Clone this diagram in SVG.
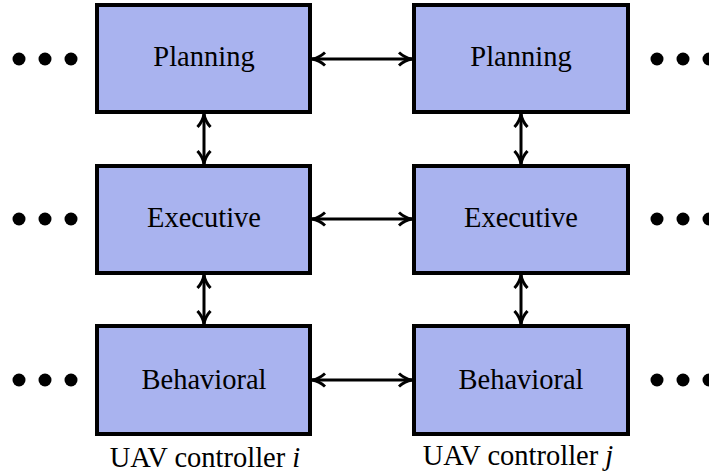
<svg xmlns="http://www.w3.org/2000/svg" width="709" height="476" viewBox="0 0 709 476">
<defs>
<style>
.box{fill:#a9b3ef;stroke:#000;stroke-width:4}
.lbl{font-family:"Liberation Serif","Times New Roman",serif;font-size:28.5px;fill:#000;text-anchor:middle}
.cap{font-family:"Liberation Serif","Times New Roman",serif;font-size:28.5px;fill:#000;text-anchor:middle}
.con{stroke:#000;stroke-width:3;fill:none;marker-start:url(#ah);marker-end:url(#ah)}
.dot{fill:#000}
</style>
<marker id="ah" viewBox="0 0 16 16" refX="15" refY="8" markerWidth="16" markerHeight="16" markerUnits="userSpaceOnUse" orient="auto-start-reverse">
<path d="M2,1.5 Q8,7 15,8 Q8,9 2,14.5" fill="none" stroke="#000" stroke-width="3"/>
</marker>
</defs>
<rect width="709" height="476" fill="#fff"/>
<g id="planning-i"><rect class="box" x="97" y="5" width="213" height="107"/><text class="lbl" x="204" y="66">Planning</text></g>
<g id="executive-i"><rect class="box" x="97" y="166" width="213" height="107"/><text class="lbl" x="204" y="227">Executive</text></g>
<g id="behavioral-i"><rect class="box" x="97" y="326" width="213" height="108"/><text class="lbl" x="204" y="389">Behavioral</text></g>
<g id="planning-j"><rect class="box" x="414" y="5" width="214" height="107"/><text class="lbl" x="521" y="66">Planning</text></g>
<g id="executive-j"><rect class="box" x="414" y="166" width="214" height="107"/><text class="lbl" x="521" y="227">Executive</text></g>
<g id="behavioral-j"><rect class="box" x="414" y="326" width="214" height="108"/><text class="lbl" x="521" y="389">Behavioral</text></g>
<g id="connectors">
<line class="con" x1="312" y1="59" x2="412" y2="59"/>
<line class="con" x1="312" y1="219" x2="412" y2="219"/>
<line class="con" x1="312" y1="380" x2="412" y2="380"/>
<line class="con" x1="204" y1="114" x2="204" y2="164"/>
<line class="con" x1="204" y1="275" x2="204" y2="324"/>
<line class="con" x1="521" y1="114" x2="521" y2="164"/>
<line class="con" x1="521" y1="275" x2="521" y2="324"/>
</g>
<g id="dots-left">
<circle class="dot" cx="19" cy="59" r="6.5"/><circle class="dot" cx="45" cy="59" r="6.5"/><circle class="dot" cx="71" cy="59" r="6.5"/>
<circle class="dot" cx="19" cy="219" r="6.5"/><circle class="dot" cx="45" cy="219" r="6.5"/><circle class="dot" cx="71" cy="219" r="6.5"/>
<circle class="dot" cx="19" cy="380" r="6.5"/><circle class="dot" cx="45" cy="380" r="6.5"/><circle class="dot" cx="71" cy="380" r="6.5"/>
</g>
<g id="dots-right">
<circle class="dot" cx="657" cy="59" r="6.5"/><circle class="dot" cx="683" cy="59" r="6.5"/><circle class="dot" cx="709" cy="59" r="6.5"/>
<circle class="dot" cx="657" cy="219" r="6.5"/><circle class="dot" cx="683" cy="219" r="6.5"/><circle class="dot" cx="709" cy="219" r="6.5"/>
<circle class="dot" cx="657" cy="380" r="6.5"/><circle class="dot" cx="683" cy="380" r="6.5"/><circle class="dot" cx="709" cy="380" r="6.5"/>
</g>
<g id="captions">
<text class="cap" x="205" y="467">UAV controller <tspan font-style="italic">i</tspan></text>
<text class="cap" x="518" y="465">UAV controller <tspan font-style="italic">j</tspan></text>
</g>
</svg>
